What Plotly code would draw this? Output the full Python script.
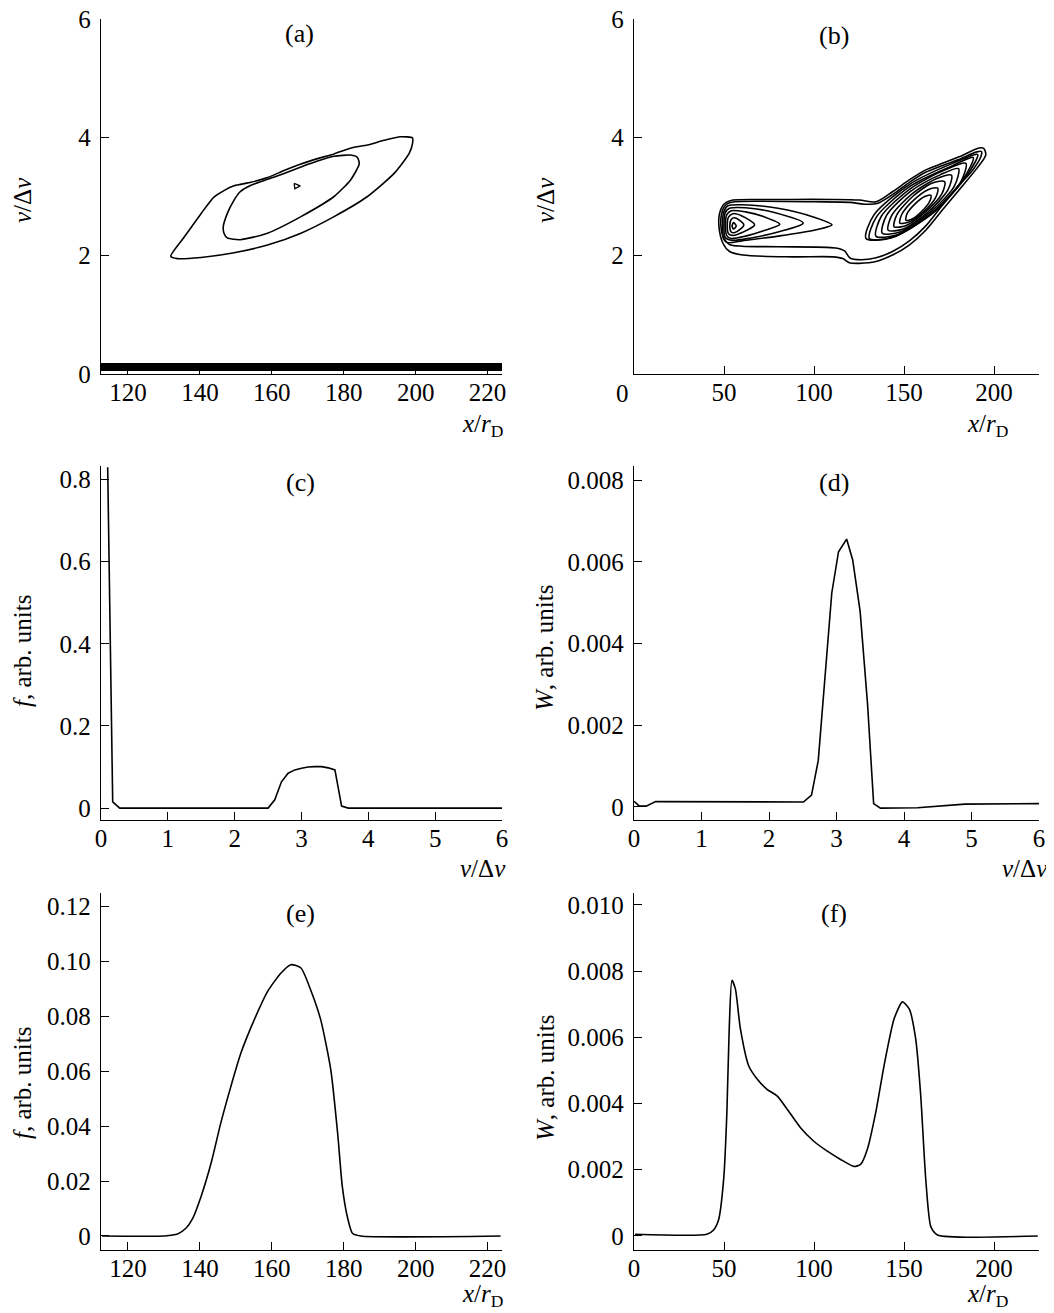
import plotly.graph_objects as go

FONT = "Liberation Serif, Times New Roman, serif"

# ---------------- data ----------------
# (a) contour lines of f(x, v)
a_outer_x = [131.9, 133.7, 140.3, 149.5, 158.8, 168.1, 177.3, 186.6, 194.0, 198.2, 199.1, 199.1, 195.8, 191.2, 186.6, 182.0, 177.3, 172.7, 168.1, 163.4, 158.8, 154.2, 149.5, 146.7, 143.9, 140.3, 135.6, 131.9]
a_outer_v = [1.99, 1.95, 1.97, 2.05, 2.18, 2.38, 2.66, 3.00, 3.39, 3.73, 3.89, 3.99, 4.01, 3.95, 3.87, 3.82, 3.72, 3.64, 3.55, 3.44, 3.32, 3.24, 3.18, 3.10, 2.99, 2.71, 2.31, 1.99]
a_inner_x = [146.7, 147.6, 151.2, 158.8, 168.1, 177.3, 181.9, 184.3, 183.8, 181.9, 177.3, 172.7, 168.1, 163.4, 158.8, 154.2, 151.2, 149.5, 147.6, 146.5, 146.7]
a_inner_v = [2.38, 2.30, 2.27, 2.38, 2.66, 3.00, 3.28, 3.55, 3.66, 3.70, 3.68, 3.60, 3.50, 3.39, 3.29, 3.19, 3.08, 2.94, 2.71, 2.49, 2.38]
a_core_x = [166.2, 167.9, 166.4, 166.2]
a_core_v = [3.22, 3.18, 3.13, 3.22]
a_band_x = [112.5, 224.0]
a_band_v = [0.12, 0.12]

# (b) contour lines of f(x, v)
b_m1_x = [49.4, 51.3, 55, 70, 88, 110, 125.2, 134.4, 143.6, 152.9, 162.1, 171.3, 180.6, 191.7, 194.4, 195.4, 189.8, 180.6, 171.3, 162.1, 152.9, 143.6, 134.4, 125.2, 119.6, 116, 110.4, 88.2, 60.5, 53.1, 49.4, 47.2, 47.5, 49.4]
b_m1_v = [2.85, 2.90, 2.94, 2.95, 2.95, 2.95, 2.94, 2.91, 3.08, 3.28, 3.45, 3.56, 3.67, 3.82, 3.81, 3.70, 3.45, 3.11, 2.77, 2.43, 2.18, 2.01, 1.90, 1.87, 1.88, 1.95, 1.98, 1.98, 2.01, 2.07, 2.21, 2.49, 2.71, 2.85]
b_m2_x = [50, 52, 56, 70, 100, 120, 128, 135, 144, 153, 162, 171, 180, 190, 193, 192.8, 188, 180, 171, 162, 153, 143.6, 134, 126, 120, 117, 112, 80, 60, 53, 49.8, 48.3, 48.6, 50]
b_m2_v = [2.82, 2.88, 2.91, 2.92, 2.91, 2.90, 2.87, 2.88, 3.04, 3.24, 3.41, 3.52, 3.62, 3.75, 3.76, 3.68, 3.44, 3.17, 2.84, 2.50, 2.25, 2.07, 1.96, 1.93, 1.96, 2.08, 2.13, 2.15, 2.16, 2.19, 2.30, 2.50, 2.70, 2.82]
b_l1_x = [54.5, 55.3, 56.8, 55.3, 54.5]
b_l1_v = [2.50, 2.56, 2.50, 2.45, 2.50]
b_l2_x = [53.2, 54, 56, 61, 56, 54, 53.2]
b_l2_v = [2.50, 2.61, 2.64, 2.52, 2.39, 2.40, 2.50]
b_l3_x = [51.8, 52.5, 55, 60, 67, 60, 55, 52.5, 51.8]
b_l3_v = [2.50, 2.65, 2.71, 2.67, 2.52, 2.39, 2.34, 2.37, 2.50]
b_l4_x = [50.8, 51.5, 54, 62, 72, 81, 72, 62, 54, 51.5, 50.8]
b_l4_v = [2.50, 2.69, 2.76, 2.74, 2.66, 2.53, 2.42, 2.33, 2.29, 2.34, 2.50]
b_l5_x = [50.0, 50.6, 53, 62, 78, 94, 80, 65, 54, 50.6, 50.0]
b_l5_v = [2.50, 2.72, 2.80, 2.81, 2.73, 2.55, 2.40, 2.30, 2.26, 2.31, 2.50]
b_l6_x = [49.2, 49.8, 52, 60, 80, 100, 110, 100, 80, 60, 52, 49.8, 49.2]
b_l6_v = [2.50, 2.73, 2.84, 2.86, 2.80, 2.65, 2.52, 2.43, 2.33, 2.25, 2.22, 2.28, 2.50]
b_r1_x = [164.9, 164.3, 159.9, 154.5, 151.1, 151.7, 156.0, 161.5, 164.9]
b_r1_v = [3.02, 2.92, 2.75, 2.62, 2.60, 2.71, 2.87, 3.00, 3.02]
b_r2_x = [168.8, 167.7, 161.1, 152.8, 147.7, 148.8, 155.4, 163.7, 168.8]
b_r2_v = [3.14, 2.99, 2.75, 2.57, 2.55, 2.70, 2.94, 3.12, 3.14]
b_r3_x = [172.6, 171.1, 162.2, 151.2, 144.5, 146.0, 154.8, 165.8, 172.6]
b_r3_v = [3.25, 3.05, 2.75, 2.51, 2.49, 2.69, 3.00, 3.23, 3.25]
b_r4_x = [176.4, 174.4, 163.4, 149.6, 141.2, 143.2, 154.3, 168.0, 176.4]
b_r4_v = [3.36, 3.11, 2.74, 2.45, 2.43, 2.68, 3.04, 3.30, 3.36]
b_r5_x = [180.3, 177.9, 164.4, 147.8, 137.9, 140.3, 153.8, 170.3, 180.3]
b_r5_v = [3.47, 3.17, 2.73, 2.40, 2.38, 2.68, 3.09, 3.37, 3.47]
b_r6_x = [184.4, 181.3, 165.3, 145.9, 134.4, 137.5, 153.4, 172.8, 184.4]
b_r6_v = [3.56, 3.23, 2.72, 2.35, 2.33, 2.67, 3.13, 3.45, 3.56]
b_r7_x = [188.5, 183.0, 166.0, 143.7, 130.8, 134.8, 153.3, 175.5, 188.5]
b_r7_v = [3.66, 3.30, 2.73, 2.31, 2.29, 2.66, 3.17, 3.50, 3.66]
b_r8_x = [190.9, 185.0, 166.6, 142.7, 128.9, 133.3, 153.3, 177.0, 190.9]
b_r8_v = [3.71, 3.36, 2.73, 2.30, 2.29, 2.69, 3.21, 3.56, 3.71]

# (c) f(v)
c_v = [0.10, 0.175, 0.28, 2.50, 2.60, 2.70, 2.80, 2.90, 3.00, 3.10, 3.20, 3.30, 3.40, 3.50, 3.60, 3.70, 6.0]
c_f = [0.83, 0.015, 0.0, 0.0, 0.02, 0.064, 0.085, 0.093, 0.097, 0.100, 0.101, 0.101, 0.098, 0.093, 0.005, 0.0, 0.0]

# (d) W(v)
d_v = [0.0, 0.08, 0.18, 0.32, 2.51, 2.63, 2.73, 2.83, 2.93, 3.03, 3.15, 3.24, 3.35, 3.46, 3.55, 3.65, 4.2, 4.9, 6.0]
d_W = [0.00014, 0.00002, 0.00002, 0.00013, 0.00012, 0.00029, 0.00114, 0.00309, 0.00524, 0.00625, 0.00656, 0.00605, 0.00479, 0.00252, 0.00008, -0.00003, -0.00002, 0.00007, 0.00008]

# (e) f(x)
e_x = [112.8, 130.1, 133.8, 136.1, 138.0, 140.3, 143.1, 145.8, 148.6, 151.4, 155.1, 158.8, 162.5, 165.3, 168.1, 170.8, 173.6, 176.4, 178.3, 179.6, 181.0, 182.4, 184.7, 223.6]
e_f = [0.0, 0.0, 0.0007, 0.0028, 0.0064, 0.0143, 0.0265, 0.0411, 0.0544, 0.0666, 0.0787, 0.0890, 0.0957, 0.0988, 0.0976, 0.0896, 0.0787, 0.0605, 0.0374, 0.0180, 0.0070, 0.0010, 0.0, 0.0]

# (f) W(x)
f_x = [0.6, 40.5, 44.2, 47.0, 49.8, 51.6, 52.9, 54.4, 56.3, 59.1, 63.7, 68.4, 73.9, 79.5, 85.1, 92.5, 99.9, 107.4, 114.8, 122.2, 125.9, 129.6, 134.3, 138.9, 144.5, 149.1, 152.9, 156.5, 159.3, 162.1, 164.9, 168.6, 224.3]
f_W = [0.00005, 0.00005, 0.00018, 0.00049, 0.0017, 0.00373, 0.00626, 0.00772, 0.00747, 0.00626, 0.00514, 0.00474, 0.00443, 0.00423, 0.00383, 0.00327, 0.00286, 0.00256, 0.00231, 0.00210, 0.00216, 0.00261, 0.00373, 0.00514, 0.00656, 0.00707, 0.00686, 0.00595, 0.00423, 0.0017, 0.00028, 0.00003, 0.0]

# tick labels
a_xticks = [120, 140, 160, 180, 200, 220]
b_xticks = [50, 100, 150, 200]
v_ticks = [0, 2, 4, 6]
b_vticks = [2, 4, 6]
c_xticks = [0, 1, 2, 3, 4, 5, 6]
c_yticks = [0, 0.2, 0.4, 0.6, 0.8]
c_yticktext = ["0", "0.2", "0.4", "0.6", "0.8"]
d_yticks = [0, 0.002, 0.004, 0.006, 0.008]
d_yticktext = ["0", "0.002", "0.004", "0.006", "0.008"]
e_yticks = [0, 0.02, 0.04, 0.06, 0.08, 0.10, 0.12]
e_yticktext = ["0", "0.02", "0.04", "0.06", "0.08", "0.10", "0.12"]
f_xticks = [0, 50, 100, 150, 200]
f_yticks = [0, 0.002, 0.004, 0.006, 0.008, 0.010]
f_yticktext = ["0", "0.002", "0.004", "0.006", "0.008", "0.010"]

# ---------------- figure ----------------
fig = go.Figure()
LW = 1.6


def line(x, y, xa, ya, shape="linear", width=LW, smoothing=0.8):
    ln = dict(color="black", width=width, shape=shape)
    if shape == "spline":
        ln["smoothing"] = smoothing
    fig.add_trace(go.Scatter(x=x, y=y, mode="lines", line=ln,
                             xaxis=xa, yaxis=ya, hoverinfo="skip",
                             showlegend=False))


# (a)
line(a_band_x, a_band_v, "x", "y", width=8)
line(a_outer_x, a_outer_v, "x", "y", shape="spline", smoothing=0.6)
line(a_inner_x, a_inner_v, "x", "y", shape="spline", smoothing=0.6)
line(a_core_x, a_core_v, "x", "y", width=1.3)

# (b)
for cx, cv in [(b_m1_x, b_m1_v), (b_m2_x, b_m2_v),
               (b_l1_x, b_l1_v), (b_l2_x, b_l2_v), (b_l3_x, b_l3_v),
               (b_l4_x, b_l4_v), (b_l5_x, b_l5_v), (b_l6_x, b_l6_v),
               (b_r1_x, b_r1_v), (b_r2_x, b_r2_v), (b_r3_x, b_r3_v),
               (b_r4_x, b_r4_v), (b_r5_x, b_r5_v), (b_r6_x, b_r6_v),
               (b_r7_x, b_r7_v), (b_r8_x, b_r8_v)]:
    line(cx, cv, "x2", "y2", shape="spline", smoothing=0.8)

# (c)-(f)
line(c_v, c_f, "x3", "y3")
line(d_v, d_W, "x4", "y4")
line(e_x, e_f, "x5", "y5", shape="spline", smoothing=0.6)
line(f_x, f_W, "x6", "y6", shape="spline", smoothing=0.6)

# page is offset by the default 8 px body margin
OFF = 8
W, H = 1054 - OFF, 1313 - OFF


def fx(px):
    return (px - OFF) / W


def fy(py):
    return 1 - (py - OFF) / H


LEFT = [fx(101), fx(502)]
RIGHT = [fx(634), fx(1039)]
ROW1 = [fy(374), fy(19)]
ROW2 = [fy(820), fy(466)]
ROW3 = [fy(1250), fy(893)]

tickfont = dict(family=FONT, size=25, color="black")


def axis(domain, rng, anchor, tickvals, ticktext=None, standoff=4):
    d = dict(domain=domain, range=rng, anchor=anchor, tickvals=tickvals,
             ticks="inside", ticklen=8, tickwidth=1.2, tickcolor="black",
             showline=True, linecolor="black", linewidth=1.3,
             showgrid=False, zeroline=False, tickfont=tickfont,
             ticklabelstandoff=standoff, automargin=False,
             ticklabeloverflow="allow")
    if ticktext is not None:
        d["ticktext"] = ticktext
    return d


XS = -4
fig.update_layout(
    template="none",
    width=W, height=H, margin=dict(l=0, r=0, t=0, b=0, pad=0),
    paper_bgcolor="white", plot_bgcolor="white", showlegend=False,
    font=dict(family=FONT, color="black"),
    xaxis=axis(LEFT, [112.5, 224], "y", a_xticks, standoff=XS),
    yaxis=axis(ROW1, [0, 6], "x", v_ticks),
    xaxis2=axis(RIGHT, [0, 225], "y2", b_xticks, standoff=XS),
    yaxis2=axis(ROW1, [0, 6], "x2", b_vticks),
    xaxis3=axis(LEFT, [0, 6], "y3", c_xticks, standoff=XS),
    yaxis3=axis(ROW2, [-0.029, 0.833], "x3", c_yticks, c_yticktext),
    xaxis4=axis(RIGHT, [0, 6], "y4", c_xticks, standoff=XS),
    yaxis4=axis(ROW2, [-0.00032, 0.00835], "x4", d_yticks, d_yticktext),
    xaxis5=axis(LEFT, [112.5, 224], "y5", a_xticks, standoff=XS),
    yaxis5=axis(ROW3, [-0.0051, 0.1249], "x5", e_yticks, e_yticktext),
    xaxis6=axis(RIGHT, [0, 225], "y6", f_xticks, standoff=XS),
    yaxis6=axis(ROW3, [-0.000425, 0.01036], "x6", f_yticks, f_yticktext),
)


def ann(text, px, py, size=25, xanchor="center", angle=0):
    fig.add_annotation(text=text, x=fx(px), y=fy(py), xref="paper",
                       yref="paper", showarrow=False, xanchor=xanchor,
                       yanchor="middle", textangle=angle,
                       font=dict(family=FONT, size=size, color="black"))


# panel labels
for lab, px, py in [("(a)", 299, 33), ("(b)", 834, 35), ("(c)", 300, 482),
                    ("(d)", 834, 482), ("(e)", 300, 913), ("(f)", 834, 913)]:
    ann(lab, px, py, size=26)

XR = "<i>x</i>/<i>r</i><sub>D</sub>"
VD = "<i>v</i>/Δ<i>v</i>"
for txt, px, py in [(XR, 505, 425), (XR, 1010, 425), (VD, 508, 869),
                    (VD, 1050, 869), (XR, 505, 1295), (XR, 1010, 1295)]:
    ann(txt, px, py, xanchor="right")

for txt, px, py in [(VD, 22, 200), (VD, 545, 200),
                    ("<i>f</i>, arb. units", 22, 651),
                    ("<i>W</i>, arb. units", 545, 648),
                    ("<i>f</i>, arb. units", 22, 1083),
                    ("<i>W</i>, arb. units", 545, 1078)]:
    ann(txt, px, py, angle=-90)

# x-axis "0" of panel (b), drawn offset to the left as in the original
ann("0", 622, 393)

fig.write_html("out.html")
